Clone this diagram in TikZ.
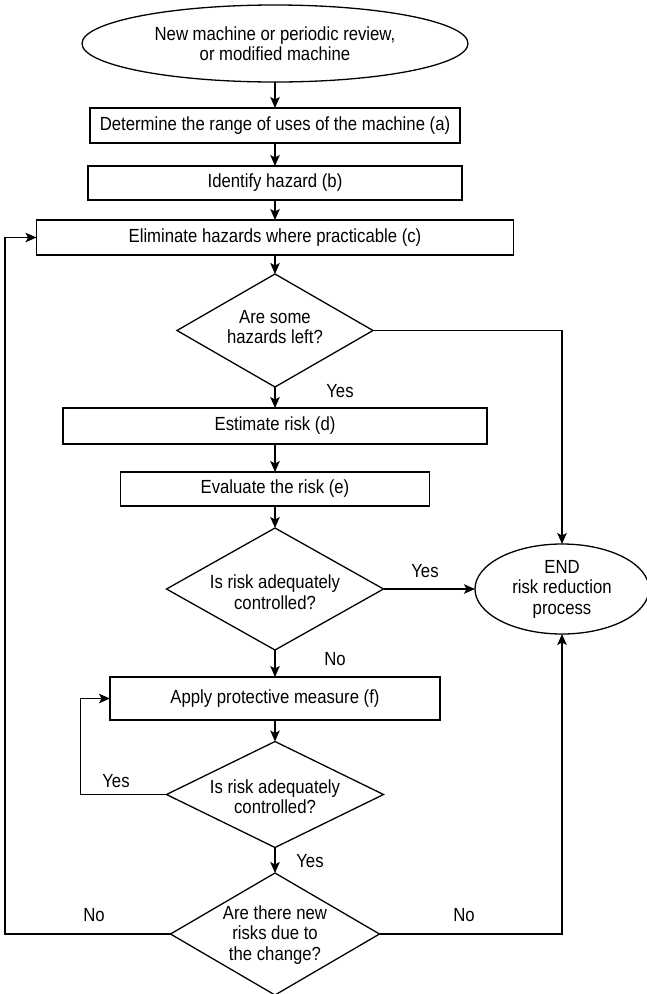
\documentclass[tikz,border=0pt]{standalone}
\usepackage{fontspec}
\setmainfont{Liberation Sans}[FakeStretch=0.88]
\usetikzlibrary{shapes.geometric,arrows.meta}
\begin{document}
\begin{tikzpicture}[x=1pt,y=-1pt,
  every node/.style={font=\fontsize{19}{20.5}\selectfont, inner sep=0pt, outer sep=0pt},
  proc/.style={draw, line width=1.3pt, rectangle, align=center},
  term/.style={draw, line width=1.3pt, ellipse, align=center},
  dec/.style={draw, line width=1.3pt, diamond},
  txt/.style={align=center},
  arr/.style={line width=1.3pt, -{Stealth[length=11pt,width=9.5pt,inset=2.5pt]}}]
\useasboundingbox (0,0) rectangle (647,994);
\node[term, minimum width=386pt, minimum height=77pt] (start) at (275,43.5) {New machine or periodic review,\\or modified machine};
\node[proc, minimum width=370pt, minimum height=35pt] (b1) at (275,125.5) {Determine the range of uses of the machine (a)};
\node[proc, minimum width=374pt, minimum height=34pt] (b2) at (275,183) {Identify hazard (b)};
\node[proc, minimum width=477pt, minimum height=35pt] (b3) at (275,237.5) {Eliminate hazards where practicable (c)};
\node[dec, minimum width=196pt, minimum height=113pt] (d1) at (275,330.5) {};
\node[txt] (d1t) at (275,327) {Are some\\hazards left?};
\node[proc, minimum width=424pt, minimum height=36pt] (b4) at (275,426) {Estimate risk (d)};
\node[proc, minimum width=309pt, minimum height=34pt] (b5) at (275,489) {Evaluate the risk (e)};
\node[dec, minimum width=217pt, minimum height=122pt] (d2) at (275,589) {};
\node[txt] (d2t) at (275,592) {Is risk adequately\\controlled?};
\node[term, minimum width=174pt, minimum height=90pt] (end) at (562,589) {END\\risk reduction\\process};
\node[proc, minimum width=330pt, minimum height=43pt] (b6) at (275,698.5) {Apply protective measure (f)};
\node[dec, minimum width=217pt, minimum height=106pt] (d3) at (275,794.5) {};
\node[txt] (d3t) at (275,796.5) {Is risk adequately\\controlled?};
\node[dec, minimum width=209pt, minimum height=122pt] (d4) at (275,934) {};
\node[txt] (d4t) at (275,935) {Are there new\\risks due to\\the change?};
\node (y1) at (340,391) {Yes};
\node (y2) at (425,571) {Yes};
\node (n1) at (335,659) {No};
\node (y3) at (116,781) {Yes};
\node (y4) at (310,861) {Yes};
\node (n2) at (94,915) {No};
\node (n3) at (464,915) {No};
\draw[arr] (start) -- (b1);
\draw[arr] (b1) -- (b2);
\draw[arr] (b2) -- (b3);
\draw[arr] (b3) -- (d1);
\draw[arr] (d1) -- (b4);
\draw[arr] (b4) -- (b5);
\draw[arr] (b5) -- (d2);
\draw[arr] (d2) -- (end);
\draw[arr] (d2) -- (b6);
\draw[arr] (b6) -- (d3);
\draw[arr] (d3) -- (d4);
\draw[arr] (d1.east) -| (end.north);
\draw[arr] (d3.west) -- ++(-86,0) |- (b6.west);
\draw[arr] (d4.west) -- ++(-165.5,0) |- (b3.west);
\draw[arr] (d4.east) -| (end.south);
\end{tikzpicture}
\end{document}
